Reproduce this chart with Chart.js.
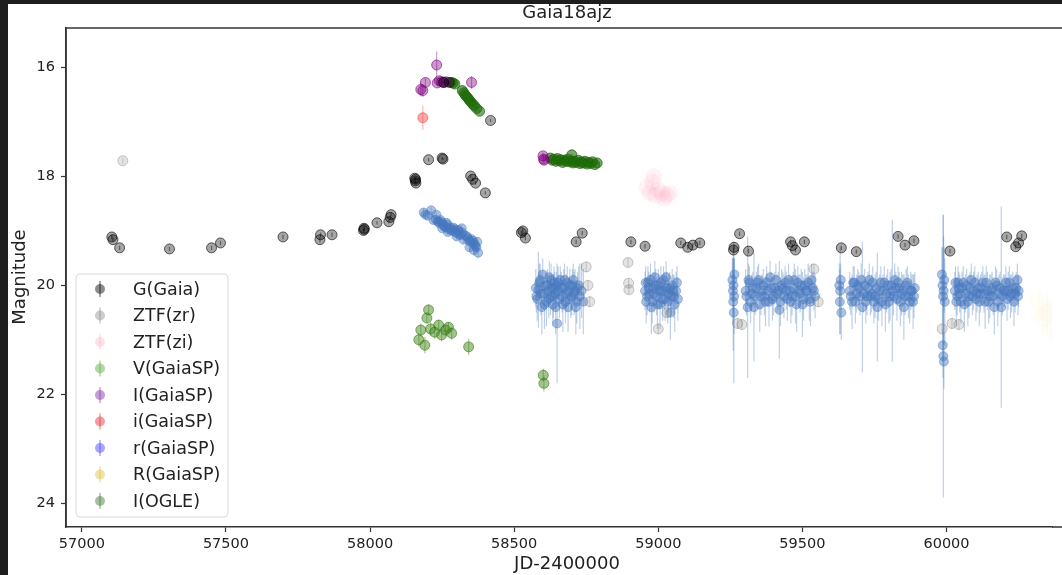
<!DOCTYPE html>
<html>
<head>
<meta charset="utf-8">
<script src="https://cdn.jsdelivr.net/npm/chart.js@4.4.0/dist/chart.umd.min.js"></script>
<style>
  html, body { margin: 0; padding: 0; background: #fff; }
</style>
</head>
<body>
<canvas id="curva" width="1062" height="575"></canvas>
<script>
// Datos: [JD-2400000, magnitud, error]
const gGaia = [
  [57104,19.11,0.04],[57108,19.16,0.04],[57131,19.31,0.04],[57304,19.33,0.04],[57450,19.31,0.04],
  [57481,19.22,0.04],[57698,19.11,0.04],[57826,19.16,0.05],[57828,19.07,0.04],[57868,19.07,0.04],
  [57977,18.99,0.03],[57979,18.95,0.03],[57980,18.97,0.03],[58024,18.85,0.03],[58065,18.83,0.03],
  [58070,18.75,0.03],[58073,18.70,0.03],[58155,18.03,0.02],[58157,18.08,0.02],[58159,18.12,0.02],
  [58158,18.05,0.02],[58203,17.69,0.03],[58250,17.66,0.02],[58253,17.68,0.02],[58255,16.27,0.02],
  [58275,16.27,0.02],[58349,17.99,0.03],[58356,18.05,0.03],[58366,18.12,0.03],[58400,18.30,0.03],
  [58418,16.97,0.03],[58525,19.03,0.04],[58530,19.00,0.04],[58539,19.13,0.04],[58715,19.20,0.04],
  [58736,19.04,0.04],[58905,19.20,0.04],[58954,19.28,0.04],[59078,19.22,0.04],[59102,19.30,0.04],
  [59120,19.26,0.04],[59144,19.22,0.04],[59261,19.35,0.05],[59263,19.30,0.04],[59282,19.05,0.04],
  [59313,19.37,0.04],[59459,19.20,0.04],[59465,19.27,0.04],[59476,19.35,0.04],[59507,19.20,0.04],
  [59635,19.31,0.04],[59687,19.38,0.04],[59832,19.10,0.04],[59856,19.26,0.04],[59887,19.18,0.04],
  [60012,19.37,0.04],[60209,19.11,0.04],[60240,19.29,0.04],[60250,19.22,0.04],[60261,19.09,0.04]
];
const ztfZr = [
  [57142,17.71,0.05],[58895,19.58,0.08],[58897,19.96,0.08],[58898,20.08,0.08],[58750,19.66,0.1],
  [58756,20.00,0.1],[58762,20.30,0.1],[59275,20.70,0.1],[59290,20.72,0.1],[59985,20.80,0.1],
  [60019,20.70,0.1],[60043,20.72,0.1],[59540,19.70,0.1],[59555,20.30,0.1],[59000,20.80,0.1],
  [59030,20.50,0.1]
];
const ztfZi = [
  [58960,18.20,0.1],[58970,18.30,0.1],[58980,18.10,0.1],[58985,18.00,0.1],[58990,18.35,0.1],
  [59000,18.25,0.1],[59010,18.30,0.1],[59020,18.40,0.1],[59030,18.35,0.1],[59040,18.30,0.1]
];
const vGaiaSP = [
  [58169,21.00,0.12],[58176,20.82,0.12],[58190,21.10,0.15],[58197,20.60,0.1],[58203,20.45,0.1],
  [58210,20.80,0.12],[58224,20.86,0.12],[58238,20.73,0.1],[58248,20.91,0.12],[58262,20.82,0.1],
  [58272,20.77,0.1],[58283,20.88,0.12],[58342,21.13,0.15],[58601,21.65,0.12],[58603,21.80,0.15]
];
const iMayGaiaSP = [
  [58176,16.40,0.13],[58183,16.42,0.12],[58192,16.27,0.08],[58231,15.95,0.25],[58233,16.28,0.05],
  [58240,16.24,0.04],[58248,16.26,0.04],[58256,16.27,0.04],[58264,16.26,0.04],[58352,16.27,0.12],
  [58600,17.62,0.06],[58602,17.68,0.06],[58604,17.70,0.05]
];
const iMinGaiaSP = [[58183,16.92,0.22]];
const rGaiaSP = [
  // temporada 2018
  [58186,18.66,0.08],[58192,18.70,0.07],[58200,18.72,0.06],[58212,18.62,0.05],[58220,18.80,0.05],
  [58228,18.79,0.05],[58235,18.83,0.05],[58241,18.86,0.05],[58248,18.84,0.05],[58255,18.90,0.06],
  [58262,18.93,0.05],[58268,18.88,0.05],[58275,18.95,0.06],[58282,18.98,0.06],[58290,18.94,0.05],
  [58297,19.02,0.06],[58305,18.98,0.06],[58312,19.08,0.07],[58320,19.03,0.06],[58324,19.16,0.07],
  [58336,19.10,0.07],[58344,19.18,0.08],[58352,19.15,0.08],[58360,19.22,0.08],[58366,19.28,0.09],
  [58372,19.20,0.08],
  [58238,18.82,0.05],[58245,18.80,0.05],[58252,18.87,0.05],[58258,18.92,0.05],[58265,18.85,0.05],
  [58272,18.97,0.05],[58279,18.93,0.05],[58286,19.00,0.06],[58294,18.97,0.05],[58301,19.04,0.06],
  [58308,19.00,0.06],[58316,19.06,0.06],[58330,19.08,0.07],[58340,19.14,0.07],[58348,19.20,0.08],
  [58356,19.18,0.08],[58363,19.25,0.08],[58369,19.30,0.09],
  [58230,18.70,0.05],[58250,18.95,0.05],[58270,19.02,0.06],[58300,19.10,0.06],[58318,18.95,0.06],
  [58345,19.30,0.08],[58360,19.35,0.1],[58375,19.40,0.1],
  // 2019
  [58575,20.05,0.35],[58580,20.25,0.4],[58584,20.08,0.7],[58590,19.90,0.3],[58596,20.40,0.5],
  [58602,20.15,0.3],[58608,20.00,0.25],[58612,20.30,0.45],[58618,20.10,0.3],[58622,19.85,0.3],
  [58626,20.20,0.35],[58630,20.05,0.25],[58634,20.35,0.4],[58638,19.95,0.3],[58642,20.15,0.3],
  [58646,20.00,0.25],[58649,20.70,1.1],[58654,20.10,0.3],[58660,19.90,0.25],[58666,20.20,0.3],
  [58672,20.05,0.35],[58678,20.30,0.4],[58684,19.95,0.3],[58690,20.10,0.25],[58696,20.25,0.35],
  [58702,20.00,0.3],[58708,20.15,0.4],[58714,20.40,0.5],[58720,20.05,0.3],[58728,20.20,0.6],
  [58734,20.10,0.5],[58740,20.30,0.6],
  [58577,20.20,0.3],[58587,19.95,0.35],[58593,20.15,0.4],[58599,19.80,0.3],[58605,20.35,0.45],
  [58615,20.00,0.3],[58620,20.25,0.35],[58628,19.90,0.3],[58636,20.20,0.4],[58640,20.05,0.3],
  [58644,20.40,0.5],[58652,19.95,0.3],[58657,20.25,0.35],[58663,20.05,0.3],[58669,20.35,0.5],
  [58675,19.90,0.3],[58681,20.15,0.35],[58687,20.40,0.45],[58693,20.00,0.3],[58699,20.20,0.35],
  [58705,19.90,0.3],[58711,20.10,0.4],[58717,20.30,0.4],[58724,20.00,0.35],
  // 2020
  [58954,20.10,0.35],[58958,20.30,0.4],[58964,19.95,0.3],[58970,20.15,0.35],[58976,20.40,0.5],
  [58982,20.05,0.3],[58988,19.85,0.3],[58994,20.20,0.35],[59000,20.00,0.3],[59006,20.35,0.45],
  [59012,20.10,0.3],[59018,19.90,0.25],[59024,20.25,0.4],[59030,20.05,0.3],[59036,20.15,0.35],
  [59042,20.50,0.5],[59048,20.00,0.3],[59054,20.20,0.4],[59062,20.10,0.35],[59068,20.25,0.4],
  [58956,19.95,0.3],[58961,20.20,0.35],[58967,20.05,0.3],[58973,19.90,0.3],[58979,20.30,0.4],
  [58985,20.15,0.35],[58991,20.00,0.3],[58997,20.35,0.45],[59003,20.10,0.3],[59009,19.95,0.3],
  [59015,20.25,0.4],[59021,20.10,0.35],[59027,19.85,0.3],[59033,20.30,0.4],[59039,20.05,0.3],
  [59045,20.20,0.35],[59051,20.10,0.3],[59057,20.35,0.5],[59065,19.95,0.3],
  // 2021
  [59257,19.90,0.4],[59259,20.10,0.6],[59260,20.30,0.9],[59261,20.00,0.5],[59262,20.50,1.3],
  [59263,20.20,0.7],[59264,19.80,0.3],
  [59303,20.10,0.4],[59310,20.40,1.3],[59316,19.95,0.3],[59324,20.15,0.35],[59332,20.40,1.0],
  [59340,20.05,0.3],[59348,19.90,0.3],[59356,20.20,0.35],[59364,20.00,0.3],[59372,20.30,0.45],
  [59380,20.10,0.3],[59388,19.85,0.3],[59396,20.25,0.4],[59404,20.05,0.3],[59412,20.15,0.35],
  [59420,20.45,0.9],[59428,20.00,0.3],[59436,20.20,0.4],[59444,20.10,0.35],[59452,19.90,0.3],
  [59460,20.30,0.4],[59468,20.05,0.3],[59476,20.20,0.5],[59484,19.95,0.3],[59492,20.15,0.35],
  [59500,20.35,0.6],[59508,20.00,0.3],[59516,20.10,0.3],[59524,20.25,0.4],[59532,19.90,0.3],
  [59540,20.10,0.35],
  [59306,20.20,0.35],[59313,19.90,0.3],[59320,20.30,0.4],[59328,20.05,0.3],[59336,20.20,0.35],
  [59344,19.95,0.3],[59352,20.35,0.5],[59360,20.10,0.3],[59368,20.20,0.35],[59376,19.95,0.3],
  [59384,20.30,0.45],[59392,20.05,0.3],[59400,20.20,0.35],[59408,19.90,0.3],[59416,20.10,0.35],
  [59424,20.30,0.45],[59432,20.05,0.3],[59440,19.95,0.3],[59448,20.25,0.4],[59456,20.10,0.3],
  [59464,20.20,0.35],[59472,19.90,0.3],[59480,20.35,0.5],[59488,20.10,0.3],[59496,20.00,0.3],
  [59504,20.25,0.4],[59512,20.10,0.3],[59520,19.95,0.35],[59528,20.30,0.45],[59536,20.05,0.3],
  [59544,20.20,0.4],
  // 2022
  [59628,20.00,0.4],[59630,20.30,0.6],[59631,20.10,0.8],[59633,19.90,0.3],[59635,20.50,0.5],
  [59664,20.10,0.35],[59672,20.30,0.5],[59680,19.95,0.3],[59688,20.15,0.35],[59696,20.05,0.3],
  [59708,20.40,1.2],[59716,20.00,0.3],[59724,20.20,0.35],[59732,19.90,0.3],[59740,20.15,0.35],
  [59748,20.30,0.4],[59756,20.05,0.3],[59760,20.40,1.0],[59764,20.25,0.4],[59772,19.95,0.3],
  [59780,20.10,0.3],[59788,20.35,0.5],[59796,20.00,0.3],[59804,20.20,0.45],[59812,20.10,1.3],
  [59820,19.90,0.3],[59828,20.25,0.4],[59836,20.05,0.3],[59844,20.15,0.4],[59852,20.40,0.6],
  [59860,20.00,0.3],[59868,20.20,0.4],[59876,20.10,0.35],[59884,20.30,0.5],[59890,20.05,0.3],
  [59668,20.20,0.35],[59676,19.95,0.3],[59684,20.30,0.4],[59692,20.00,0.3],[59700,20.20,0.35],
  [59704,19.90,0.3],[59712,20.15,0.35],[59720,20.30,0.4],[59728,20.05,0.3],[59736,20.20,0.35],
  [59744,19.95,0.3],[59752,20.20,0.4],[59768,20.10,0.3],[59776,20.30,0.45],[59784,19.95,0.3],
  [59792,20.15,0.35],[59800,20.30,0.4],[59808,20.00,0.3],[59816,20.20,0.35],[59824,20.05,0.3],
  [59832,19.95,0.3],[59840,20.30,0.45],[59848,20.10,0.3],[59856,20.20,0.35],[59864,19.95,0.3],
  [59872,20.30,0.4],[59880,20.10,0.3],[59887,20.20,0.4],
  // 2023
  [59984,19.80,0.5],[59986,20.00,0.7],[59988,20.20,1.5],[59989,21.30,2.6],[59990,20.10,1.0],
  [59992,19.90,0.6],[59994,20.30,0.8],[59987,21.10,0.3],[59991,21.40,0.5],
  [60029,20.10,0.35],[60034,20.30,0.45],[60040,19.95,0.3],[60046,20.15,0.35],[60054,20.05,0.3],
  [60062,20.35,0.5],[60070,20.00,0.3],[60078,20.20,0.4],[60086,19.90,0.3],[60094,20.10,0.35],
  [60102,20.25,0.4],[60110,20.05,0.3],[60118,20.15,0.35],[60126,19.95,0.3],[60134,20.30,0.5],
  [60142,20.10,0.35],[60150,20.20,0.4],[60158,20.05,0.3],[60166,20.40,0.5],[60174,20.00,0.3],
  [60182,20.15,0.35],[60190,20.40,1.85],[60198,20.10,0.3],[60206,19.95,0.3],[60214,20.10,0.35],
  [60222,20.20,0.4],[60230,20.05,0.3],[60238,20.15,0.35],[60246,19.90,0.3],[60250,20.10,0.3],
  [60031,19.95,0.3],[60037,20.20,0.35],[60043,20.05,0.3],[60050,20.30,0.4],[60058,19.95,0.3],
  [60066,20.15,0.35],[60074,20.30,0.45],[60082,20.05,0.3],[60090,20.20,0.35],[60098,19.95,0.3],
  [60106,20.15,0.35],[60114,20.30,0.45],[60122,20.05,0.3],[60130,20.15,0.35],[60138,19.95,0.3],
  [60146,20.30,0.4],[60154,20.10,0.3],[60162,20.20,0.35],[60170,19.95,0.3],[60178,20.30,0.45],
  [60186,20.05,0.3],[60194,20.20,0.35],[60202,20.10,0.3],[60210,20.25,0.4],[60218,19.95,0.3],
  [60226,20.15,0.35],[60234,20.30,0.45],[60242,20.05,0.3],[60248,20.20,0.35]
];
const rMayGaiaSP = [
  [60320,20.30,0.3],[60335,20.60,0.3],[60350,20.50,0.4],[60365,20.80,0.3],[60380,20.40,0.3]
];
const iOgle = [
  [58282,16.27,0.02],[58288,16.28,0.02],[58294,16.30,0.02],[58320,16.42,0.02],[58325,16.46,0.02],
  [58330,16.50,0.02],[58335,16.53,0.02],[58340,16.56,0.02],[58345,16.60,0.02],[58350,16.63,0.02],
  [58356,16.67,0.02],[58362,16.70,0.02],[58370,16.75,0.02],[58380,16.80,0.02],
  [58625,17.66,0.02],[58632,17.70,0.02],[58638,17.68,0.02],[58645,17.72,0.02],[58650,17.67,0.02],
  [58656,17.71,0.02],[58662,17.69,0.02],[58668,17.74,0.02],[58674,17.70,0.02],[58680,17.72,0.02],
  [58686,17.68,0.02],[58692,17.73,0.02],[58698,17.71,0.02],[58700,17.60,0.02],[58704,17.75,0.02],
  [58710,17.72,0.02],[58716,17.74,0.02],[58722,17.70,0.02],[58728,17.76,0.02],[58734,17.73,0.02],
  [58740,17.75,0.02],[58746,17.72,0.02],[58752,17.77,0.02],[58758,17.74,0.02],[58765,17.76,0.02],
  [58772,17.73,0.02],[58780,17.78,0.02],[58788,17.75,0.02]
];

const etiquetas = ['G(Gaia)','ZTF(zr)','ZTF(zi)','V(GaiaSP)','I(GaiaSP)','i(GaiaSP)','r(GaiaSP)','R(GaiaSP)','I(OGLE)'];
const ticksX = [57000, 57500, 58000, 58500, 59000, 59500, 60000];
const ticksY = [16, 18, 20, 22, 24];

// estilo de cada serie
const estilos = [
  { fill: 'rgba(0,0,0,0.35)',       borde: 'rgba(0,0,0,0.6)',       err: 'rgba(0,0,0,0.45)',      r: 5,   ley: 'rgba(0,0,0,0.45)' },
  { fill: 'rgba(128,128,128,0.22)', borde: 'rgba(110,110,110,0.35)',err: 'rgba(128,128,128,0.3)', r: 5,   ley: 'rgba(128,128,128,0.4)' },
  { fill: 'rgba(255,160,180,0.12)', borde: 'rgba(255,160,180,0.05)',err: 'rgba(255,160,180,0.12)',r: 8,   ley: 'rgba(255,170,190,0.35)' },
  { fill: 'rgba(70,140,30,0.5)',    borde: 'rgba(50,110,20,0.55)',  err: 'rgba(70,140,30,0.45)',  r: 5,   ley: 'rgba(100,175,80,0.5)' },
  { fill: 'rgba(128,0,128,0.4)',    borde: 'rgba(128,0,128,0.6)',   err: 'rgba(150,60,170,0.5)',  r: 5,   ley: 'rgba(140,60,170,0.5)' },
  { fill: 'rgba(255,60,60,0.45)',   borde: 'rgba(230,60,60,0.5)',   err: 'rgba(255,90,90,0.45)',  r: 5,   ley: 'rgba(230,60,70,0.5)' },
  { fill: 'rgba(70,120,190,0.45)',  borde: 'rgba(70,120,190,0.45)', err: 'rgba(70,120,190,0.35)', r: 4.5, ley: 'rgba(80,80,255,0.5)' },
  { fill: 'rgba(240,215,120,0.06)', borde: 'rgba(240,210,100,0.03)',err: 'rgba(240,210,100,0.06)',r: 9,   ley: 'rgba(220,190,60,0.45)' },
  { fill: 'rgba(30,110,10,0.6)',    borde: 'rgba(30,100,10,0.7)',   err: 'rgba(30,110,10,0.5)',   r: 5,   ley: 'rgba(60,110,50,0.45)' }
];
const series = [gGaia, ztfZr, ztfZi, vGaiaSP, iMayGaiaSP, iMinGaiaSP, rGaiaSP, rMayGaiaSP, iOgle];

const fuente = '"DejaVu Sans", sans-serif';

// barras de error verticales
const barrasError = {
  id: 'barrasError',
  beforeDatasetsDraw(chart) {
    const ctx = chart.ctx, ys = chart.scales.y, a = chart.chartArea;
    ctx.save();
    ctx.beginPath();
    ctx.rect(a.left, a.top, a.right - a.left, a.bottom - a.top);
    ctx.clip();
    chart.data.datasets.forEach((ds, i) => {
      const meta = chart.getDatasetMeta(i);
      ctx.strokeStyle = ds.errColor;
      ctx.lineWidth = 1.2;
      meta.data.forEach((pt, j) => {
        const d = ds.data[j];
        ctx.beginPath();
        ctx.moveTo(pt.x, ys.getPixelForValue(d.y - d.e));
        ctx.lineTo(pt.x, ys.getPixelForValue(d.y + d.e));
        ctx.stroke();
      });
    });
    ctx.restore();
  }
};

// marco, titulos, leyenda y borde oscuro de la captura
const decoracion = {
  id: 'decoracion',
  afterDraw(chart) {
    const ctx = chart.ctx, a = chart.chartArea;
    ctx.save();
    ctx.strokeStyle = '#333';
    ctx.lineWidth = 1.5;
    ctx.beginPath();
    ctx.moveTo(a.left, a.bottom);
    ctx.lineTo(a.left, a.top);
    ctx.lineTo(1062, a.top);
    ctx.moveTo(a.right, a.bottom);
    ctx.lineTo(1062, a.bottom);
    ctx.stroke();

    ctx.fillStyle = '#222';
    ctx.font = '18px ' + fuente;
    ctx.textAlign = 'center';
    ctx.textBaseline = 'middle';
    ctx.fillText('Gaia18ajz', 567, 13);
    ctx.fillText('JD-2400000', 567, 564);
    ctx.save();
    ctx.translate(20, 277);
    ctx.rotate(-Math.PI / 2);
    ctx.fillText('Magnitude', 0, 0);
    ctx.restore();

    // leyenda
    const lx = 76, ly = 274, lw = 152, lh = 243;
    ctx.fillStyle = 'rgba(255,255,255,0.8)';
    ctx.strokeStyle = '#d8d8d8';
    ctx.lineWidth = 1;
    ctx.beginPath();
    ctx.roundRect(lx, ly, lw, lh, 4);
    ctx.fill();
    ctx.stroke();
    ctx.font = '17.5px ' + fuente;
    ctx.textAlign = 'left';
    etiquetas.forEach((txt, k) => {
      const y = 289 + k * 26.5;
      const c = estilos[k].ley;
      ctx.strokeStyle = c;
      ctx.lineWidth = 1.5;
      ctx.beginPath();
      ctx.moveTo(100, y - 8);
      ctx.lineTo(100, y + 8);
      ctx.stroke();
      ctx.fillStyle = c;
      ctx.beginPath();
      ctx.arc(100, y, 5, 0, Math.PI * 2);
      ctx.fill();
      ctx.fillStyle = '#222';
      ctx.fillText(txt, 133, y + 1);
    });

    ctx.fillStyle = '#1e1e1e';
    ctx.fillRect(0, 0, 1062, 4);
    ctx.fillRect(0, 0, 8, 575);
    ctx.restore();
  }
};

const ctx = document.getElementById('curva').getContext('2d');

new Chart(ctx, {
  type: 'scatter',
  data: {
    datasets: series.map((s, k) => ({
      label: etiquetas[k],
      data: s.map(p => ({ x: p[0], y: p[1], e: p[2] })),
      pointRadius: estilos[k].r,
      pointBackgroundColor: estilos[k].fill,
      pointBorderColor: estilos[k].borde,
      pointBorderWidth: 1,
      errColor: estilos[k].err
    }))
  },
  options: {
    responsive: false,
    animation: false,
    layout: { padding: { left: 0, top: 28, right: 0, bottom: 0 } },
    plugins: {
      legend: { display: false },
      tooltip: { enabled: false },
      title: { display: false }
    },
    scales: {
      x: {
        type: 'linear',
        min: 56945,
        max: 60366,
        afterBuildTicks: sc => { sc.ticks = ticksX.map(v => ({ value: v })); },
        afterFit: sc => { sc.height = 48; },
        grid: { drawOnChartArea: false, tickLength: 5, color: '#333', tickWidth: 1.2 },
        border: { display: true, color: '#333', width: 1.5 },
        ticks: { color: '#222', font: { family: fuente, size: 14.5 }, padding: 4, maxRotation: 0,
                 callback: v => String(v) }
      },
      y: {
        type: 'linear',
        reverse: true,
        min: 15.27,
        max: 24.44,
        afterBuildTicks: sc => { sc.ticks = ticksY.map(v => ({ value: v })); },
        afterFit: sc => { sc.width = 66; },
        grid: { drawOnChartArea: false, tickLength: 5, color: '#333', tickWidth: 1.2 },
        border: { display: true, color: '#333', width: 1.5 },
        ticks: { color: '#222', font: { family: fuente, size: 14.5 }, padding: 6,
                 callback: v => String(v) }
      }
    }
  },
  plugins: [barrasError, decoracion]
});
</script>
</body>
</html>
